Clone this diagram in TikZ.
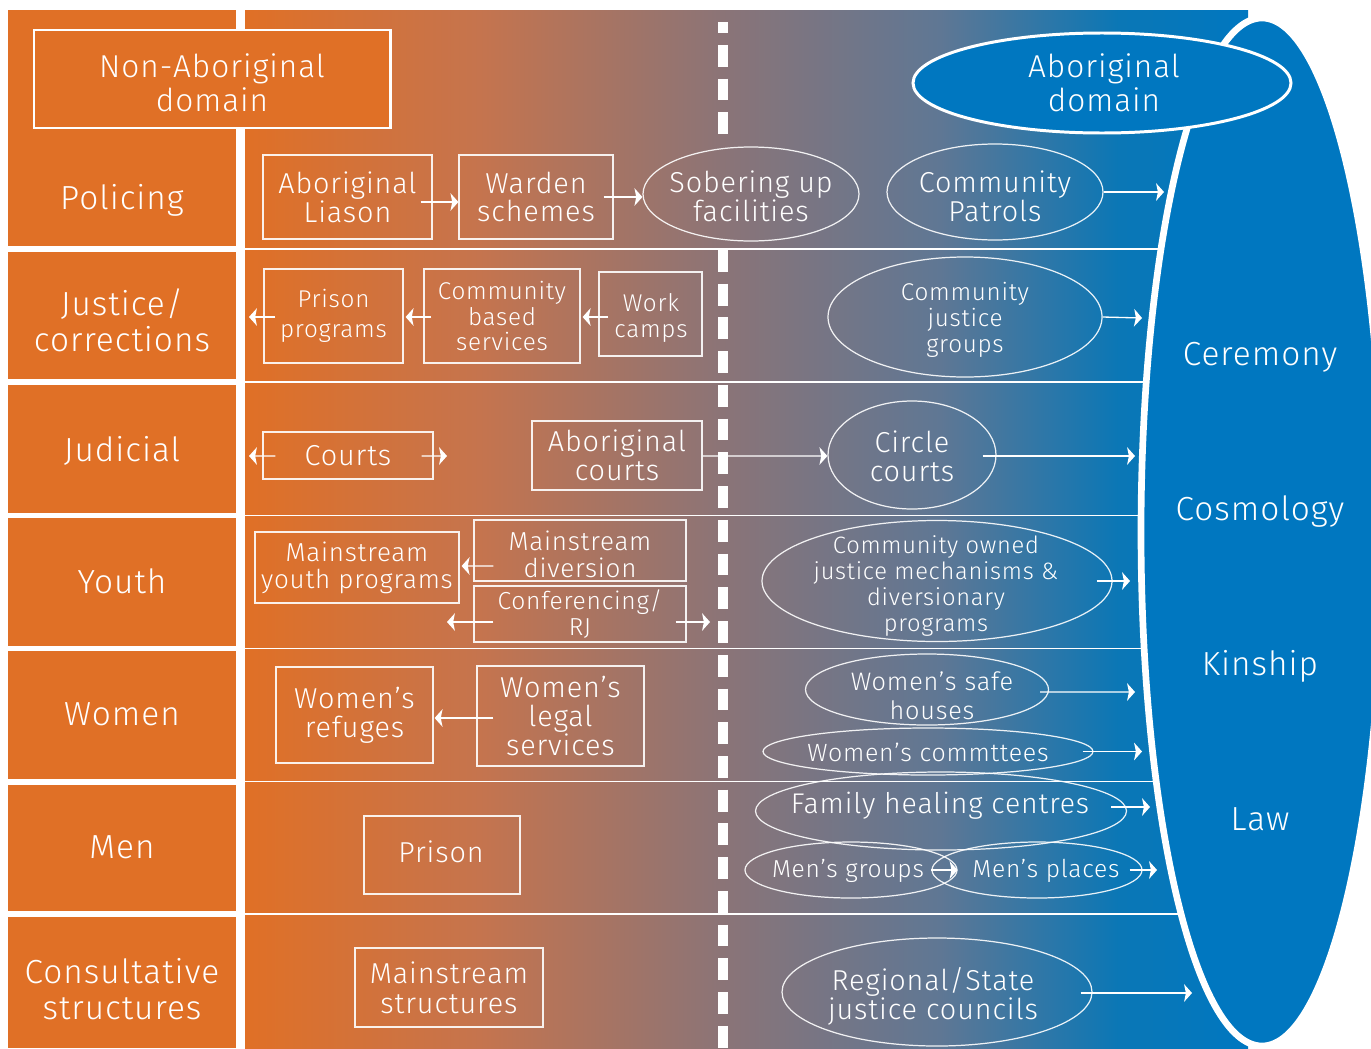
\documentclass[tikz,border=0pt]{standalone}
\usepackage{fontspec}
\setmainfont{Fira Sans Light}[LetterSpace=3]
\usetikzlibrary{shapes.geometric,arrows.meta}
\definecolor{org}{RGB}{224,112,38}
\definecolor{orgmid}{RGB}{197,116,78}
\definecolor{mauve}{RGB}{139,116,119}
\definecolor{bmid}{RGB}{95,119,148}
\definecolor{blutwo}{RGB}{10,119,182}
\definecolor{blu}{RGB}{0,119,192}
\pgfdeclarehorizontalshading{panelgrad}{100bp}{color(0bp)=(org); color(25bp)=(org); color(36.71bp)=(orgmid); color(48.78bp)=(mauve); color(59.65bp)=(bmid); color(68.62bp)=(blutwo); color(75bp)=(blu); color(100bp)=(blu)}
\newcommand{\PX}{0.02cm}
\tikzset{
  fL/.style={font=\fontsize{19}{20.4}\selectfont},
  fH/.style={font=\fontsize{18}{19.3}\selectfont},
  fA/.style={font=\fontsize{16.4}{16.4}\selectfont},
  fB/.style={font=\fontsize{13.8}{14.7}\selectfont},
  fC/.style={font=\fontsize{14.8}{15.3}\selectfont},
  lab/.style={text=white, align=center, inner sep=0pt},
  txt/.style={text=white, align=center, inner sep=0pt},
  bx/.style={draw=white, draw opacity=0.9, line width=0.7pt, text=white, align=center, inner sep=0pt},
  el/.style={ellipse, draw=white, draw opacity=0.9, line width=0.7pt, inner sep=0pt},
  arr/.style={draw=white, line width=0.75pt, -{Stealth[length=4.5pt,width=10pt,inset=1pt]}},
  rowline/.style={draw=white, line width=0.75pt},
  colsep/.style={draw=white, line width=3.4pt},
  divider/.style={white, line width=5.7pt, dash pattern=on 12.4pt off 6.8pt},
}
\begin{document}
\begin{tikzpicture}[x=0.02cm,y=-0.02cm]
\useasboundingbox[fill=white] (0,0) rectangle (1371,1048);
% column and panel
\fill[org] (8,10) rectangle (236,1048);
\shade[shading=panelgrad] (245,10) rectangle (1248,1048);
% row lines
\foreach \yy in {249,382,515.5,648.5,781.5,914}{
  \draw[rowline] (245,\yy) -- (1250,\yy);
  \draw[colsep] (8,\yy) -- (236,\yy);
}
% dashed divider
\draw[divider, dash phase=6.2pt] (723,22) -- (723,136);
\draw[divider] (723,250) -- (723,1048);
% big blue ellipse
\node[ellipse, fill=blu, draw=white, line width=3.8pt, inner sep=0pt, minimum width=242*\PX, minimum height=1028*\PX] (lore) at (1262,532) {};
% headers
\node[fill=org, draw=white, line width=1.7pt, minimum width=356*\PX, minimum height=98*\PX, inner sep=0pt] (nad) at (212,79) {};
\node[txt,fH] (nadT) at (212,82.5) {Non-Aboriginal\\domain};
\node[ellipse, fill=blu, draw=white, line width=1.7pt, minimum width=378*\PX, minimum height=100*\PX, inner sep=0pt] (ad) at (1102,83) {};
\node[txt,fH] (adT) at (1104,82.5) {Aboriginal\\domain};
% left labels
\node[lab,fL] (lPol) at (122,200) {Policing};
\node[lab,fL] (lJus) at (122,320) {Justice/\\corrections};
\node[lab,fL] (lJud) at (122,451) {Judicial};
\node[lab,fL] (lYou) at (122,581) {Youth};
\node[lab,fL] (lWom) at (122,714) {Women};
\node[lab,fL] (lMen) at (122,847) {Men};
\node[lab,fL] (lCon) at (122,989) {Consultative\\structures};
% right labels
\node[lab,fL] (rCer) at (1260,357) {Ceremony};
\node[lab,fL] (rCos) at (1260,512) {Cosmology};
\node[lab,fL] (rKin) at (1260,666) {Kinship};
\node[lab,fL] (rLaw) at (1260,819) {Law};
% free arrow ends
\coordinate (t1) at (1164,192);
\coordinate (t2) at (249,317);
\coordinate (t3) at (1142,318);
\coordinate (t4) at (249,456);
\coordinate (t5) at (447,456);
\coordinate (t6) at (1135,456);
\coordinate (t7) at (447,622);
\coordinate (t8) at (710,622);
\coordinate (t9) at (1130,581);
\coordinate (t10) at (1135,692);
\coordinate (t11) at (1142,751.5);
\coordinate (t12) at (1150,807);
\coordinate (t13) at (1157,870);
\coordinate (t14) at (1192,993);
% Policing row
\node[bx,fA, minimum width=169*\PX, minimum height=84*\PX] (al) at (347.5,197) {Aboriginal\\Liason};
\node[bx,fA, minimum width=154*\PX, minimum height=84*\PX] (ws) at (536,197) {Warden\\schemes};
\node[el, minimum width=216*\PX, minimum height=94*\PX] (sob) at (751,194) {};
\node[txt,fA] (sobT) at (751,196) {Sobering up\\facilities};
\node[el, minimum width=216*\PX, minimum height=96*\PX] (cp) at (995,192) {};
\node[txt,fA] (cpT) at (995,196) {Community\\Patrols};
\draw[arr] ([shift={(-12,5)}]al.east) -- ([shift={(0,5)}]ws.west);
\draw[arr] ([shift={(-10,0)}]ws.east) -- ([shift={(0,3)}]sob.west);
\draw[arr] (cp.east) -- (t1);
% Justice row
\node[bx,font=\fontsize{13.8}{17}\selectfont, minimum width=139*\PX, minimum height=94*\PX] (pp) at (333.5,316) {Prison\\programs};
\node[bx,fB, minimum width=156*\PX, minimum height=94*\PX] (cbs) at (502,316) {Community\\based\\services};
\node[bx, minimum width=103*\PX, minimum height=84*\PX] (wc) at (650.5,314) {};
\node[txt,font=\fontsize{13.8}{15.3}\selectfont] (wcT) at (651,318) {Work\\camps};
\node[el, minimum width=274*\PX, minimum height=120*\PX] (cjg) at (965,317) {};
\node[txt,fB] (cjgT) at (965,320) {Community\\justice\\groups};
\draw[arr] ([shift={(12,1)}]pp.west) -- (t2);
\draw[arr] ([shift={(8,1)}]cbs.west) -- ([shift={(2,1)}]pp.east);
\draw[arr] ([shift={(10,3)}]wc.west) -- ([shift={(2,1)}]cbs.east);
\draw[arr] (cjg.east) -- (t3);
% Judicial row
\node[bx,fA, minimum width=170*\PX, minimum height=47*\PX] (crt) at (348,455.5) {Courts};
\node[bx,fA, minimum width=170*\PX, minimum height=69*\PX] (ac) at (617,455.5) {Aboriginal\\courts};
\node[el, minimum width=168*\PX, minimum height=108*\PX] (cc) at (912,455) {};
\node[txt,fA] (ccT) at (912,456) {Circle\\courts};
\draw[arr] ([shift={(13,0.5)}]crt.west) -- (t4);
\draw[arr] ([shift={(-12,0.5)}]crt.east) -- (t5);
\draw[arr] ([shift={(0,0.5)}]ac.east) -- ([shift={(0,1)}]cc.west);
\draw[arr] ([shift={(-14,1)}]cc.east) -- (t6);
% Youth row
\node[bx,fC, minimum width=204*\PX, minimum height=71*\PX] (myp) at (357,567.5) {Mainstream\\youth programs};
\node[bx, minimum width=212*\PX, minimum height=61*\PX] (md) at (580,550.5) {};
\node[txt,fC] (mdT) at (580,554) {Mainstream\\diversion};
\node[bx,font=\fontsize{14}{14.7}\selectfont, minimum width=212*\PX, minimum height=56*\PX] (cf) at (580,614) {Conferencing/\\RJ};
\node[el, minimum width=350*\PX, minimum height=121*\PX] (coj) at (937,581) {};
\node[txt,font=\fontsize{13.5}{14.7}\selectfont] (cojT) at (936,586) {Community owned\\justice mechanisms \&\\diversionary\\programs};
\draw[arr] ([shift={(20,15.5)}]md.west) -- ([shift={(2,-1.5)}]myp.east);
\draw[arr] ([shift={(20,8)}]cf.west) -- (t7);
\draw[arr] ([shift={(-11,8)}]cf.east) -- (t8);
\draw[arr] ([shift={(-16,0)}]coj.east) -- (t9);
% Women row
\node[bx,fA, minimum width=157*\PX, minimum height=96*\PX] (wr) at (354.5,715) {Women’s\\refuges};
\node[bx,fA, minimum width=167*\PX, minimum height=100*\PX] (wls) at (560.5,716) {Women’s\\legal\\services};
\node[el, minimum width=243*\PX, minimum height=71*\PX] (wsh) at (927,689.5) {};
\node[txt,font=\fontsize{14.4}{16.4}\selectfont] (wshT) at (932,696) {Women’s safe\\houses};
\node[el, minimum width=330*\PX, minimum height=47*\PX] (wcm) at (928,751.5) {};
\node[txt,font=\fontsize{14.2}{15}\selectfont] (wcmT) at (928,752) {Women’s commttees};
\draw[arr] ([shift={(17,2)}]wls.west) -- ([shift={(1,3)}]wr.east);
\draw[arr] ([shift={(-9,2.5)}]wsh.east) -- (t10);
\draw[arr] ([shift={(-11,0)}]wcm.east) -- (t11);
% Men row
\node[bx, minimum width=156*\PX, minimum height=78*\PX] (pr) at (442,855) {};
\node[txt,fA] (prT) at (441,852) {Prison};
\node[el, minimum width=371*\PX, minimum height=78*\PX] (fhc) at (941,811) {};
\node[txt,font=\fontsize{16.2}{16.5}\selectfont] (fhcT) at (940,806) {Family healing centres};
\node[el, minimum width=212*\PX, minimum height=56*\PX] (mg) at (851,870) {};
\node[txt,font=\fontsize{14}{15}\selectfont] (mgT) at (848,871) {Men’s groups};
\node[el, minimum width=210*\PX, minimum height=56*\PX] (mp) at (1037,870) {};
\node[txt,font=\fontsize{14}{15}\selectfont] (mpT) at (1046,871) {Men’s places};
\draw[arr] ([shift={(-16,-4)}]fhc.east) -- (t12);
\draw[arr] (mp.west) -- (mg.east);
\draw[arr] ([shift={(-13,0)}]mp.east) -- (t13);
% Consultative row
\node[bx,font=\fontsize{16.4}{17}\selectfont, minimum width=188*\PX, minimum height=79*\PX] (ms) at (449,987.5) {Mainstream\\structures};
\node[el, minimum width=310*\PX, minimum height=108*\PX] (rsj) at (937,992) {};
\node[txt,fA] (rsjT) at (933,996) {Regional/State\\justice councils};
\draw[arr] ([shift={(-12,1)}]rsj.east) -- (t14);
\end{tikzpicture}
\end{document}
